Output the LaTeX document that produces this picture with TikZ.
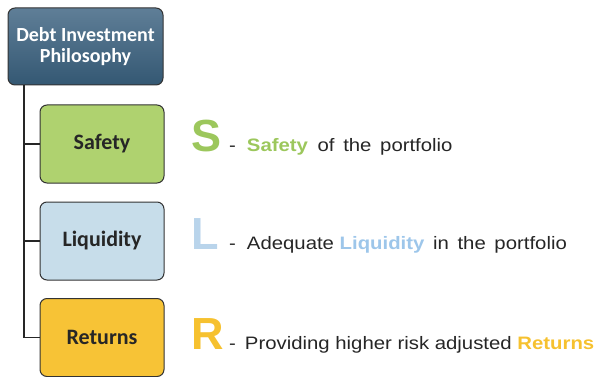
\documentclass[tikz,border=0pt]{standalone}
\usepackage{fontspec}
\setmainfont{Liberation Sans}
\newfontfamily\widefont[FakeStretch=1.13]{Liberation Sans}
\newfontfamily\boxfont{Carlito}
\usepackage{tikz}

\definecolor{headtop}{HTML}{5F7E97}
\definecolor{headbot}{HTML}{345873}
\definecolor{safegreen}{HTML}{AFD26F}
\definecolor{liqblue}{HTML}{C7DDEA}
\definecolor{retyellow}{HTML}{F7C336}
\definecolor{letgreen}{HTML}{9CC75C}
\definecolor{letblue}{HTML}{B9D4EB}
\definecolor{wordblue}{HTML}{9DC6EA}
\definecolor{letyellow}{HTML}{F6C12F}
\definecolor{textdark}{HTML}{262626}

\begin{document}
\begin{tikzpicture}[x=1pt, y=-1pt,
    box/.style={draw=black!80, line width=1pt, rounded corners=7pt,
        minimum width=124pt, minimum height=78pt, inner sep=0pt,
        font=\boxfont\bfseries\fontsize{22}{22}\selectfont, text=black!85},
    bigletter/.style={anchor=base west, inner sep=0pt,
        font=\bfseries\fontsize{45}{45}\selectfont},
    line/.style={anchor=base west, inner sep=0pt, text=textdark,
        font=\widefont\fontsize{18}{18}\selectfont}]
    \useasboundingbox (0,0) rectangle (597,377);
    % header and the three boxes
    \node[box, top color=headtop, bottom color=headbot, text=white,
        minimum width=155pt, minimum height=77pt, align=center,
        font=\boxfont\bfseries\fontsize{20}{20}\selectfont] (head) at (85.5,46.5)
        {Debt Investment\\[1pt]Philosophy};
    \node[box, fill=safegreen] (safety) at (102,144) {Safety};
    \node[box, fill=liqblue] (liquidity) at (102,241) {Liquidity};
    \node[box, fill=retyellow] (returns) at (102,337.5) {Returns};
    % tree lines
    \coordinate (trunk) at (24,0);
    \draw[line width=1.6pt, black!85] (head.south -| trunk) |- (returns.west);
    \foreach \b in {safety, liquidity}
        \draw[line width=1.6pt, black!85] (trunk |- \b.west) -- (\b.west);
    % S L R
    \node[bigletter, text=letgreen] (S) at (191,152) {S};
    \node[line] (Sline) at (229,152)
        {-\hspace{11pt}\textbf{\color{letgreen}Safety}\hspace{4pt} of\hspace{3pt} the\hspace{3pt} portfolio};
    \node[bigletter, text=letblue] (L) at (191,249) {L};
    \node[line] (Lline) at (229,249)
        {-\hspace{11pt}Adequate \textbf{\color{wordblue}Liquidity}\hspace{3pt} in\hspace{3pt} the\hspace{3pt} portfolio};
    \node[bigletter, text=letyellow] (R) at (191,349) {R};
    \node[line] (Rline) at (229,349)
        {-\hspace{9pt}Providing higher risk adjusted \textbf{\color{letyellow}Returns}};
\end{tikzpicture}
\end{document}
